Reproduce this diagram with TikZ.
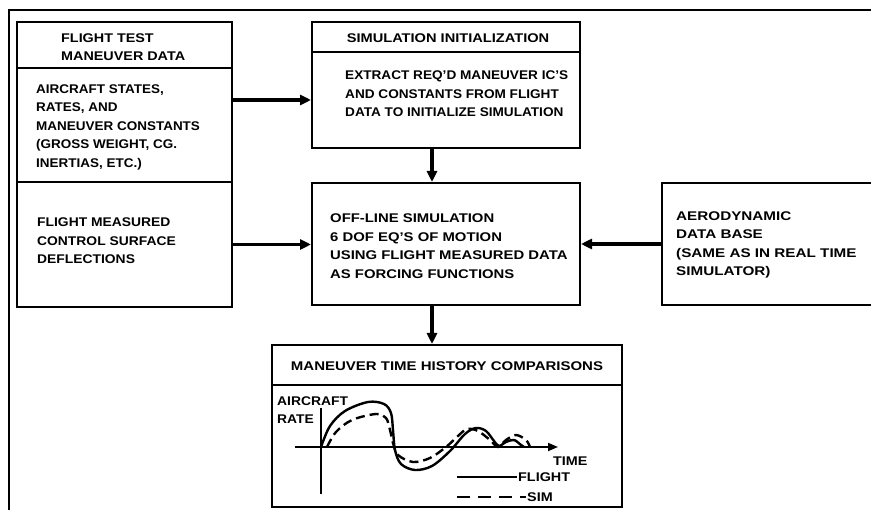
\documentclass[tikz,border=0pt]{standalone}
\usepackage{fontspec}
\setmainfont{Liberation Sans}
\usetikzlibrary{arrows.meta}
\newcommand\boxfont[1]{\fontsize{12.6}{18.5}\selectfont\bfseries\addfontfeature{FakeStretch=#1}}
\begin{document}
\begin{tikzpicture}[x=1pt,y=-1pt,
  box/.style={draw, line width=2pt, inner sep=0pt},
  frame/.style={line width=1.6pt},
  txt/.style={font=\boxfont{1.14}, align=left, inner sep=0pt, anchor=west},
  ctxt/.style={font=\boxfont{1.16}, align=center, inner sep=0pt},
  arr/.style={line width=3.2pt, -{Triangle[length=11pt,width=10pt]}},
  axis/.style={line width=1.8pt},
  flight/.style={line width=2.4pt, line join=round},
  sim/.style={line width=2.4pt, dash pattern=on 9pt off 5pt},
  simkey/.style={line width=2.4pt, dash pattern=on 13pt off 8pt},
]
\clip (0,0) rectangle (871,510);
% outer frame
\draw[frame] (9,510) -- (9,10) -- (871,10);
% left box
\node[box, minimum width=215pt, minimum height=46pt] (lhead) at (124.5,45) {};
\node[box, minimum width=215pt, minimum height=114pt] (lstates) at (124.5,125) {};
\node[box, minimum width=215pt, minimum height=125pt] (lmeas) at (124.5,244.5) {};
\node[txt] (lheadt) at (61,47) {FLIGHT TEST\\MANEUVER DATA};
\node[txt, font=\boxfont{1.07}] (lstatest) at (36,127) {AIRCRAFT STATES,\\RATES, AND\\MANEUVER CONSTANTS\\(GROSS WEIGHT, CG.\\INERTIAS, ETC.)};
\node[txt, font=\boxfont{1.10}] (lmeast) at (37,241) {FLIGHT MEASURED\\CONTROL SURFACE\\DEFLECTIONS};
% simulation initialization
\node[box, minimum width=268pt, minimum height=30pt] (shead) at (446,37) {};
\node[box, minimum width=268pt, minimum height=96pt] (sbody) at (446,100) {};
\node[ctxt] (sheadt) at (448,38) {SIMULATION INITIALIZATION};
\node[txt, font=\boxfont{1.08}] (sbodyt) at (345,94) {EXTRACT REQ'D MANEUVER IC'S\\AND CONSTANTS FROM FLIGHT\\DATA TO INITIALIZE SIMULATION};
% off-line simulation
\node[box, minimum width=268pt, minimum height=122pt] (mid) at (446,244) {};
\node[txt, font=\boxfont{1.18}] (midt) at (330,246) {OFF-LINE SIMULATION\\6 DOF EQ'S OF MOTION\\USING FLIGHT MEASURED DATA\\AS FORCING FUNCTIONS};
% aerodynamic data base
\node[box, minimum width=230pt, minimum height=122pt] (aero) at (777,244) {};
\node[txt, font=\boxfont{1.21}] (aerot) at (676,245) {AERODYNAMIC\\DATA BASE\\(SAME AS IN REAL TIME\\SIMULATOR)};
% comparisons
\node[box, minimum width=350pt, minimum height=40pt] (bhead) at (447,365) {};
\node[box, minimum width=350pt, minimum height=122pt] (bbody) at (447,446) {};
\node[ctxt, font=\boxfont{1.19}] (bheadt) at (447,366) {MANEUVER TIME HISTORY COMPARISONS};
% connectors
\draw[arr] (sbody.west -| lstates.east) -- (sbody.west);
\draw[arr] (lmeas.east) -- (lmeas.east -| mid.west);
\draw[arr] ([xshift=-14pt]sbody.south) -- ([xshift=-14pt]mid.north);
\draw[arr] (aero.west) -- (mid.east);
\draw[arr] ([xshift=-14pt]mid.south) -- ([xshift=-15pt]bhead.north);
% graph
\node[txt, font=\boxfont{1.10}] (ylab) at (277,410) {AIRCRAFT\\RATE};
\node[txt] (tlab) at (553,461) {TIME};
\node[txt] (flab) at (518,477) {FLIGHT};
\node[txt] (slab) at (527,497) {SIM};
\coordinate (o) at (321,447);
\coordinate (xend) at (558,447);
\draw[axis] (o |- 0,408) -- (o |- 0,494);
\draw[axis, -{Triangle[length=10pt,width=8pt]}] (295,447) -- (xend);
\draw[flight] plot[smooth, tension=0.55] coordinates {(321,447) (330,426) (345,411) (368,402) (384,404) (391,413) (393,430) (395,450) (401,464) (415,470) (432,466) (450,451) (465,434) (476,428) (486,431) (494,441) (499,446) (506,442) (514,440) (521,445) (524,447)};
\draw[sim] plot[smooth, tension=0.55] coordinates {(327,447) (336,432) (352,420) (376,414) (386,418) (390,430) (393,443) (398,455) (413,462) (430,458) (446,447) (458,436) (467,429) (478,431) (490,440) (498,447) (506,440) (516,435) (526,440) (530,447)};
\draw[flight] ([xshift=-61pt]flab.west) -- ([xshift=-1pt]flab.west);
\draw[simkey] ([xshift=-70pt]slab.west) -- ([xshift=-1pt]slab.west);
\end{tikzpicture}
\end{document}
